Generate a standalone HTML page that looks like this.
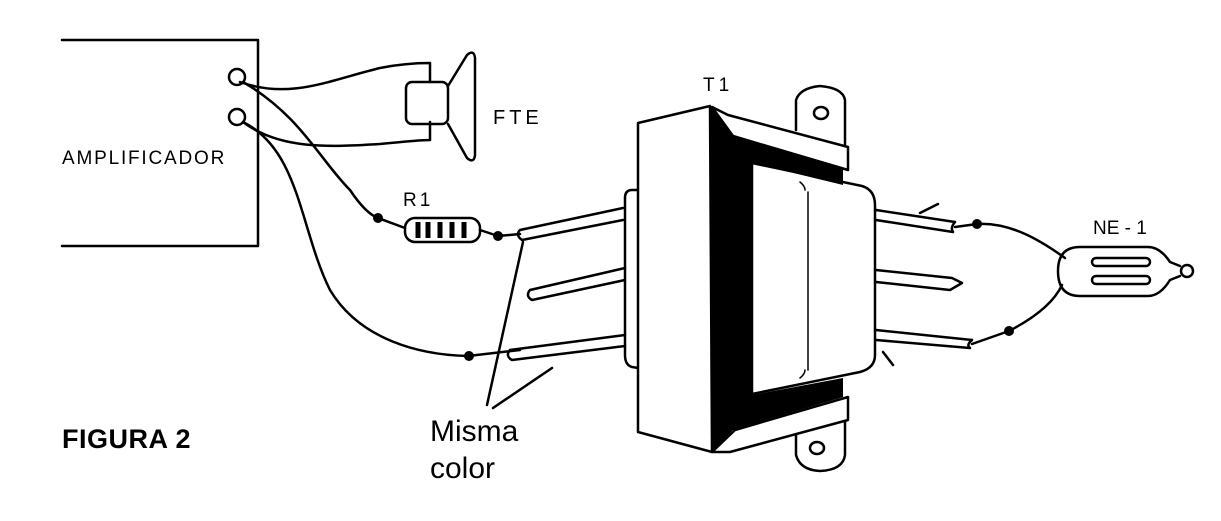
<!DOCTYPE html>
<html><head><meta charset="utf-8"><style>
html,body{margin:0;padding:0;background:#fff}
svg{display:block}
text{font-family:"Liberation Sans",sans-serif;fill:#000}
</style></head><body>
<svg width="1221" height="521" viewBox="0 0 1221 521" xmlns="http://www.w3.org/2000/svg">
<g fill="none" stroke="#000" stroke-width="2.5" stroke-linecap="round" stroke-linejoin="round">
<polyline points="62,40 258,40 258,246 62,246"/>
<circle cx="237" cy="77" r="8"/>
<circle cx="237" cy="117" r="8"/>
<path d="M240,82 C290,100 330,80 380,68 C400,64 420,63 430,63 L430,82"/>
<path d="M243,122 C280,150 330,147 380,144 C400,142 420,140 430,140 L430,122"/>
<rect x="406" y="82" width="42" height="42" rx="6"/>
<path d="M448,86 L467,55 Q474,49 475,58 L475,155 Q474,164 467,158 L448,124"/>
<path d="M243,82 C300,115 320,160 350,190 C360,205 370,215 378,218 L405,228"/>
<path d="M243,122 C300,150 300,230 330,290 C360,340 420,355 468,356 L520,350"/>
<rect x="405" y="218" width="75" height="24" rx="10"/>
<path d="M480,230 L498,236 L520,234"/>
<path d="M520,230 L623,208 M522,240 L623,220 M520,230 Q515,235 522,240"/>
<path d="M530,290 L625,268 M532,300 L625,280 M530,290 Q525,296 532,300"/>
<path d="M510,350 L625,335 M512,360 L625,346 M510,350 Q505,356 512,360"/>
<path d="M523,242 L487,405 M552,368 L493,408"/>
<path d="M638,190 L632,190 Q625,190 625,198 L625,355 Q625,365 632,367 L638,368"/>
<!-- tabs (behind) -->
<path d="M796,130 L796,100 Q800,88 820,86 Q843,88 845,100 L845,150" fill="#fff"/>
<ellipse cx="821" cy="113" rx="7" ry="6"/>
<path d="M796,405 L796,455 Q800,470 820,471 Q843,470 845,455 L845,400" fill="#fff"/>
<ellipse cx="817" cy="448" rx="7" ry="6"/>
<path d="M752,163 L862,186 Q875,190 875,205 L875,355 Q875,368 860,372 L752,394 Z" fill="#fff"/>
<path d="M808,192 L808,370 M800,182 Q805,186 805,190 M800,378 Q805,374 805,370" stroke-width="1.5"/>
</g>
<!-- black band -->
<path d="M710,106 L733,135 L843,168 L843,185 L752,163 L752,395 L843,378 L843,397 L733,430 L712,452 Z" fill="#000"/>
<g fill="#fff" stroke="#000" stroke-width="2.5" stroke-linejoin="round">
<path d="M712,107 L728,115 L848,147 L848,170 L733,136 Z"/>
<path d="M712,452 L730,452 L848,420 L848,397 L735,430 Z"/>
<path d="M638,123 L710,106 L712,452 L638,432 Z"/>
</g>
<g fill="none" stroke="#000" stroke-width="2.5" stroke-linecap="round" stroke-linejoin="round">
<path d="M876,210 L955,222 M876,220 L953,232 M955,222 Q950,228 953,232"/>
<path d="M876,270 L952,278 M876,282 L950,290 M952,278 L962,283 L950,290"/>
<path d="M876,330 L972,340 M876,340 L970,348 M972,340 Q966,345 970,348"/>
<path d="M920,213 L938,204 M883,352 L893,365"/>
<path d="M955,227 L977,224 C1010,222 1040,240 1065,258"/>
<path d="M972,344 L1009,331 C1040,315 1055,300 1062,285"/>
<path d="M1080,247 L1148,247 Q1160,247 1170,262 L1180,266 M1080,296 L1148,296 Q1160,296 1170,280 L1180,276 M1080,247 Q1058,247 1058,271 Q1058,296 1080,296"/>
<circle cx="1187" cy="271" r="6"/>
<rect x="1092" y="258" width="58" height="8" rx="4"/>
<rect x="1092" y="276" width="58" height="8" rx="4"/>
</g>
<path d="M418,222 L418,238 M428,222 L428,238 M440,222 L440,238 M452,222 L452,238 M464,222 L464,238" stroke="#000" stroke-width="5"/>
<g fill="#000">
<circle cx="378" cy="218" r="5"/><circle cx="498" cy="236" r="5"/><circle cx="469" cy="356" r="5"/>
<circle cx="977" cy="224" r="5"/><circle cx="1009" cy="331" r="5"/>
</g>
<text x="62" y="164" font-size="19" letter-spacing="1.8">AMPLIFICADOR</text>
<text x="493" y="124" font-size="20" letter-spacing="4">FTE</text>
<text x="403" y="206" font-size="19" letter-spacing="3">R1</text>
<text x="703" y="91" font-size="19" letter-spacing="4">T1</text>
<text x="1093" y="234" font-size="19">NE - 1</text>
<text x="62" y="448" font-size="27" font-weight="bold" letter-spacing="0.5">FIGURA 2</text>
<text x="430" y="441" font-size="30">Misma</text>
<text x="430" y="478" font-size="30">color</text>
</svg>
</body></html>
